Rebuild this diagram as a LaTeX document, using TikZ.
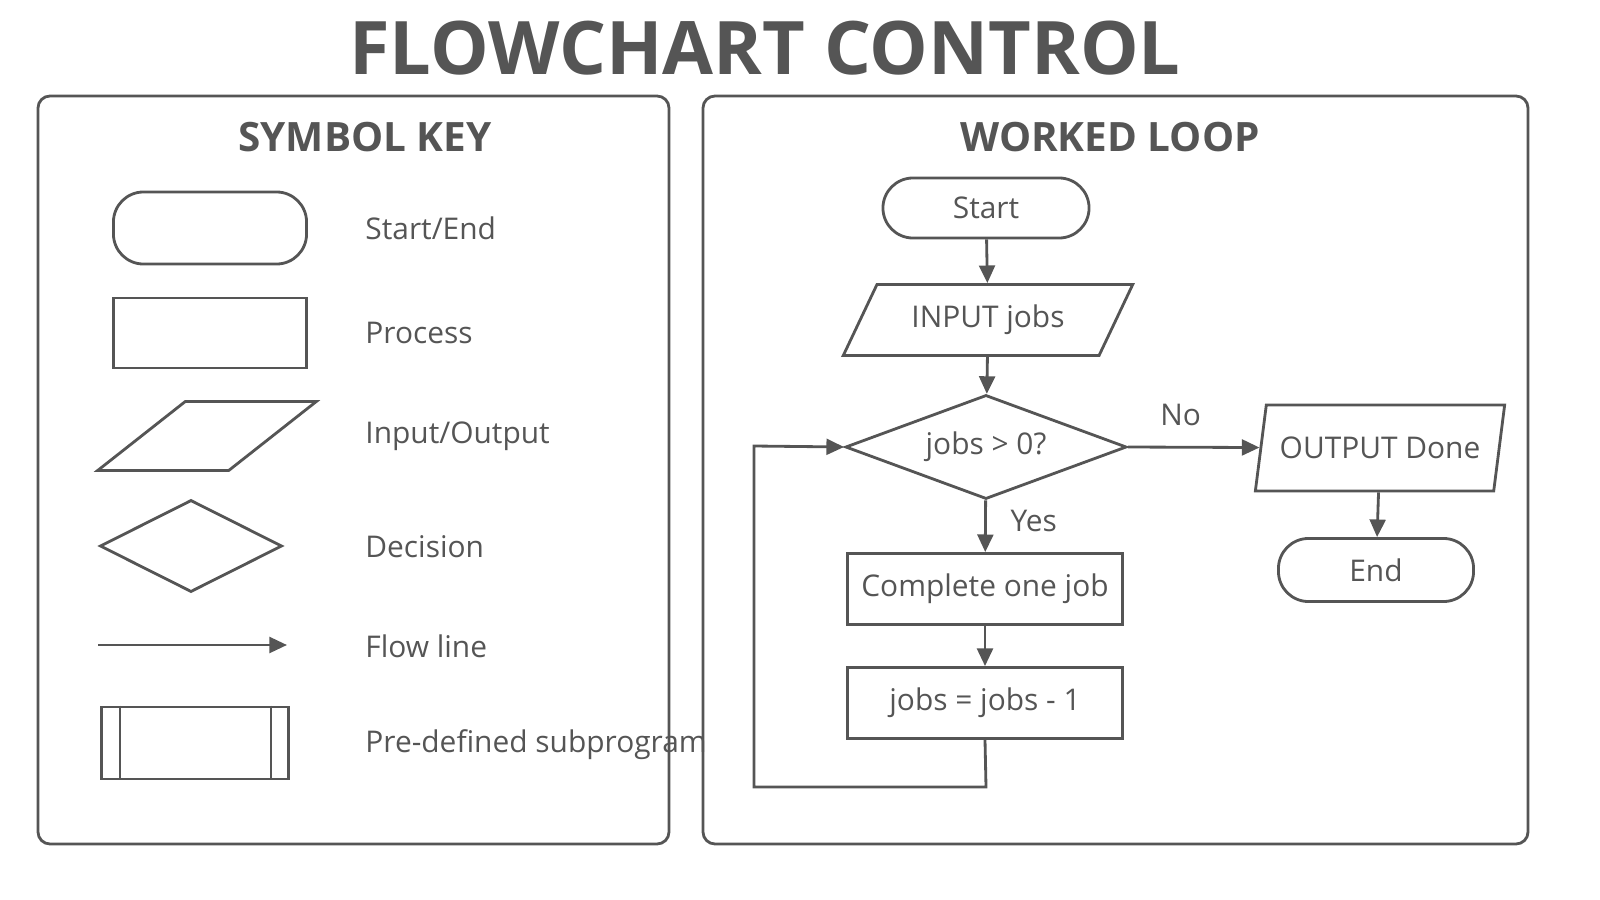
\documentclass[tikz,border=0pt]{standalone}
\usepackage{fontspec}
\setmainfont{Open Sans}
\usetikzlibrary{shapes.geometric,arrows.meta,positioning}
\definecolor{ink}{HTML}{555555}

\tikzset{
	base/.style={draw=ink, line width=0.8pt, text=ink, font=\fontsize{8.5}{10}\selectfont, inner sep=0pt},
	termbox/.style={base, rounded corners=0.3cm},
	procbox/.style={base, rectangle},
	iobox/.style={base, trapezium, trapezium left angle=60, trapezium right angle=120, trapezium stretches=true, inner sep=2pt},
	decbox/.style={base, diamond, aspect=2.7, inner sep=2pt},
	keytext/.style={text=ink, anchor=west, font=\fontsize{8.5}{10}\selectfont},
	flow/.style={draw=ink, line width=0.8pt, -{Triangle[length=5pt,width=4.5pt]}},
	panel/.style={draw=ink, line width=0.8pt, rounded corners=0.12cm},
	heading/.style={text=ink, font=\bfseries\fontsize{11.5}{13}\selectfont}
}

\begin{document}
\begin{tikzpicture}[x=0.01cm,y=-0.01cm]
	\useasboundingbox (0,0) rectangle (1600,900);

	% title and panels
	\node[text=ink, font=\bfseries\fontsize{21}{24}\selectfont] (title) at (765,48) {FLOWCHART CONTROL};
	\draw[panel] (38,96) rectangle (669,844);
	\draw[panel] (703,96) rectangle (1528,844);
	\node[heading] (keyhead) at (365,137) {SYMBOL KEY};
	\node[heading] (loophead) at (1110,137) {WORKED LOOP};

	% symbol key
	\node[termbox, minimum width=1.93cm, minimum height=0.72cm] (kterm) at (210,228) {};
	\node[procbox, minimum width=1.93cm, minimum height=0.70cm] (kproc) at (210,333) {};
	\node[iobox, minimum width=2.19cm, minimum height=0.69cm] (kio) at (207,436) {\strut};
	\node[decbox, minimum width=1.82cm, minimum height=0.92cm] (kdec) at (191,546) {};
	\coordinate (kfa) at (98,645);
	\coordinate (kfb) at (287,645);
	\draw[flow] (kfa) -- (kfb);
	\node[procbox, minimum width=1.87cm, minimum height=0.72cm] (ksub) at (195,743) {};
	\draw[draw=ink, line width=0.8pt] ([xshift=0.2cm]ksub.north west) -- ([xshift=0.2cm]ksub.south west);
	\draw[draw=ink, line width=0.8pt] ([xshift=-0.19cm]ksub.north east) -- ([xshift=-0.19cm]ksub.south east);

	\node[keytext] (lterm) at (353,228) {Start/End};
	\node[keytext] (lproc) at (353,333) {Process};
	\node[keytext] (lio) at (353,436) {Input/Output};
	\node[keytext] (ldec) at (353,547) {Decision};
	\node[keytext] (lflow) at (353,646) {Flow line};
	\node[keytext] (lsub) at (353,745) {Pre-defined subprogram};

	% worked loop
	\node[termbox, minimum width=2.06cm, minimum height=0.60cm] (start) at (986,208) {Start};
	\node[iobox, minimum width=2.90cm, minimum height=0.71cm] (input) at (988,320) {INPUT jobs};
	\node[decbox, minimum width=2.81cm, minimum height=1.04cm] (check) at (986,447) {jobs > 0?};
	\node[procbox, minimum width=2.75cm, minimum height=0.71cm] (work) at (985,589) {Complete one job};
	\node[procbox, minimum width=2.75cm, minimum height=0.71cm] (dec) at (985,703) {jobs = jobs - 1};
	\node[iobox, trapezium left angle=74, trapezium right angle=106, minimum width=2.50cm, minimum height=0.86cm] (output) at (1380,448) {OUTPUT Done};
	\node[termbox, minimum width=1.95cm, minimum height=0.63cm] (end) at (1376,570) {End};
	\coordinate (loopa) at (986,787);
	\coordinate (loopb) at (754,787);
	\coordinate (loopc) at (754,446);

	\draw[flow] (start) -- (input);
	\draw[flow] (input) -- (check);
	\draw[flow] (check) -- node[pos=0.4, right=0.12cm, text=ink, font=\fontsize{8.5}{10}\selectfont] (yes) {Yes} (work);
	\draw[flow] (work) -- (dec);
	\draw[flow] (check.east) -- node[pos=0.4, above=0.08cm, text=ink, font=\fontsize{8.5}{10}\selectfont] (no) {No} (output);
	\draw[flow] (output) -- (end);
	\draw[flow] (dec.south) -- (loopa) -- (loopb) -- (loopc) -- (check.west);

\end{tikzpicture}
\end{document}
